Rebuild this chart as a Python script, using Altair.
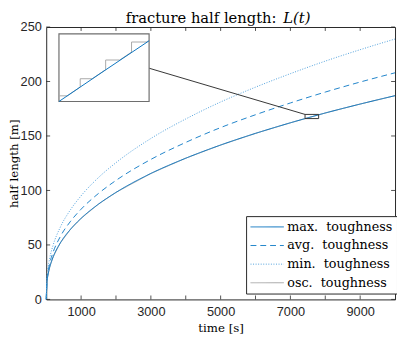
import altair as alt
import pandas as pd

# ---- data ----
series_names = ["max.\u00a0 toughness", "avg.\u00a0 toughness", "min.\u00a0 toughness", "osc.\u00a0 toughness"]
t = [0, 25, 50, 100, 200, 400, 700, 1000, 1500, 2000, 3000, 4000, 5000, 6000, 7000, 8000, 9000, 10000]
max_L = [0, 17.0, 22.4, 29.6, 39.1, 51.6, 64.5, 74.4, 87.5, 98.2, 115.6, 129.6, 141.7, 152.4, 162.1, 171.1, 179.3, 187.0]
avg_L = [0, 18.9, 25.0, 33.0, 43.5, 57.4, 71.8, 82.8, 97.3, 109.2, 128.5, 144.1, 157.7, 169.5, 180.3, 190.3, 199.5, 208.0]
min_L = [0, 21.7, 28.7, 37.9, 50.0, 66.0, 82.5, 95.1, 111.9, 125.5, 147.7, 165.6, 181.2, 194.8, 207.2, 218.7, 229.2, 239.0]
osc_L = [0, 17.0, 22.4, 29.6, 39.1, 51.6, 64.5, 74.4, 87.5, 98.2, 115.6, 129.6, 141.7, 152.4, 162.1, 171.1, 179.3, 187.0]

# zoomed window (inset)
zoom_t = [7420, 7810]
zoom_L = [165.96, 169.79]
inset_blue_t = [7420, 7615, 7810]
inset_blue_L = [165.96, 167.69, 169.40]
inset_osc_t = [7420, 7456, 7512, 7512, 7564, 7622, 7622, 7683, 7734, 7734, 7797, 7810]
inset_osc_L = [166.28, 166.28, 166.78, 167.25, 167.25, 167.76, 168.31, 168.31, 168.76, 169.33, 169.33, 169.40]
# connector from inset edge to zoom box (main data units)
conn_t = [2949, 7420]
conn_L = [212.2, 169.79]

x_ticks = [1000, 2000, 3000, 4000, 5000, 6000, 7000, 8000, 9000]
x_labels = [1000, 3000, 5000, 7000, 9000]
y_ticks = [0, 50, 100, 150, 200, 250]

W, H = 356, 278
BLUE = "#0a74bf"
BLUE2 = "#1f83ca"
BLUE3 = "#4d9fdb"
GRAY = "#a8a8a8"
AX = "#262626"
SERIF = "DejaVu Serif"

rows = []
for name, vals in zip(series_names, [max_L, avg_L, min_L, osc_L]):
    for ti, v in zip(t, vals):
        rows.append({"t": ti, "L": v, "series": name})
df = pd.DataFrame(rows)

leg = alt.Legend(
    title=None, orient="none", legendX=204, legendY=193, fillColor="white", strokeColor=AX,
    padding=4, labelFont=SERIF, labelFontSize=13, labelColor="black",
    symbolType="stroke", symbolSize=1156, symbolStrokeWidth=1, rowPadding=5, labelOffset=3,
    labelLimit=300, clipHeight=14,
)
xs = alt.Scale(domain=[0, 10000], nice=False)
ys = alt.Scale(domain=[0, 250], nice=False)
col = alt.Color("series:N", legend=leg,
                scale=alt.Scale(domain=series_names, range=[BLUE, BLUE2, BLUE3, GRAY]))
dash = alt.StrokeDash("series:N", legend=leg,
                      scale=alt.Scale(domain=series_names, range=[[1, 0], [6, 4], [1, 1.6], [1, 0]]))

xenc = alt.X("t:Q", scale=xs, axis=alt.Axis(values=x_labels, title="time [s]", format="d"))
yenc = alt.Y("L:Q", scale=ys, axis=alt.Axis(values=y_ticks, title="half length [m]"))

osc_layer = alt.Chart(df[df.series == series_names[3]]).mark_line(strokeWidth=1).encode(
    x=xenc, y=yenc, color=col, strokeDash=dash, detail="series:N")
curves = alt.Chart(df[df.series != series_names[3]]).mark_line(
    strokeWidth=1, interpolate="monotone").encode(
    x=xenc, y=yenc, color=col, strokeDash=dash, detail="series:N")

xt = pd.DataFrame({"t": x_ticks})
yt = pd.DataFrame({"L": y_ticks})
tick_b = alt.Chart(xt).mark_rule(color=AX, strokeWidth=0.8).encode(
    x=alt.X("t:Q", scale=xs), y=alt.value(H), y2=alt.value(H - 4))
tick_t = alt.Chart(xt).mark_rule(color=AX, strokeWidth=0.8).encode(
    x=alt.X("t:Q", scale=xs), y=alt.value(0), y2=alt.value(4))
tick_l = alt.Chart(yt).mark_rule(color=AX, strokeWidth=0.8).encode(
    y=alt.Y("L:Q", scale=ys), x=alt.value(0), x2=alt.value(4))
tick_r = alt.Chart(yt).mark_rule(color=AX, strokeWidth=0.8).encode(
    y=alt.Y("L:Q", scale=ys), x=alt.value(W), x2=alt.value(W - 4))

box_df = pd.DataFrame({"t0": [zoom_t[0]], "t1": [zoom_t[1]], "L0": [zoom_L[0]], "L1": [zoom_L[1]]})
zoom_box = alt.Chart(box_df).mark_rect(fillOpacity=0, stroke="#333333", strokeWidth=1).encode(
    x=alt.X("t0:Q", scale=xs), x2="t1:Q", y=alt.Y("L0:Q", scale=ys), y2="L1:Q")
conn = alt.Chart(pd.DataFrame({"t": conn_t, "L": conn_L})).mark_line(
    color="#333333", strokeWidth=1).encode(x=alt.X("t:Q", scale=xs), y=alt.Y("L:Q", scale=ys))

title_a = alt.Chart(pd.DataFrame({"s": ["fracture half length:"]})).mark_text(
    font=SERIF, fontSize=15, align="right", baseline="alphabetic", color="black").encode(
    text="s:N", x=alt.value(235), y=alt.value(-4))
title_b = alt.Chart(pd.DataFrame({"s": ["L(t)"]})).mark_text(
    font=SERIF, fontSize=15, fontStyle="italic", align="left", baseline="alphabetic",
    color="black").encode(text="s:N", x=alt.value(242), y=alt.value(-4))

main = alt.layer(osc_layer, curves, tick_b, tick_t, tick_l, tick_r, zoom_box, conn, title_a, title_b)

# ---- inset ----
ixs = alt.Scale(domain=zoom_t, range=[13, 105], nice=False, zero=False)
iys = alt.Scale(domain=zoom_L, range=[76, 7], nice=False, zero=False)
inset_frame = alt.Chart(box_df).mark_rect(fill="white", stroke="#6e6e6e", strokeWidth=1.2).encode(
    x=alt.X("t0:Q", scale=ixs, axis=None), x2="t1:Q",
    y=alt.Y("L0:Q", scale=iys, axis=None), y2="L1:Q")
inset_osc = alt.Chart(pd.DataFrame({"t": inset_osc_t, "L": inset_osc_L})).mark_line(
    color=GRAY, strokeWidth=1).encode(
    x=alt.X("t:Q", scale=ixs, axis=None), y=alt.Y("L:Q", scale=iys, axis=None))
inset_blue = alt.Chart(pd.DataFrame({"t": inset_blue_t, "L": inset_blue_L})).mark_line(
    color=BLUE, strokeWidth=1).encode(
    x=alt.X("t:Q", scale=ixs, axis=None), y=alt.Y("L:Q", scale=iys, axis=None))
inset = alt.layer(inset_frame, inset_osc, inset_blue)

chart = alt.layer(main, inset).resolve_scale(x="independent", y="independent").properties(
    width=W, height=H,
    autosize=alt.AutoSizeParams(type="none"),
    padding={"left": 39, "top": 16, "right": 2, "bottom": 38},
).configure_view(stroke=AX, strokeWidth=1).configure_axis(
    grid=False, ticks=False, domain=False,
    labelFont="Liberation Sans", labelFontSize=13, labelColor=AX,
    titleFont=SERIF, titleFontSize=12, titleFontWeight="normal", titleColor="black",
).configure_axisX(labelPadding=6, titlePadding=5).configure_axisY(
    labelPadding=5, titlePadding=0)

chart.save("out.html", embed_options={"renderer": "svg", "actions": False})
